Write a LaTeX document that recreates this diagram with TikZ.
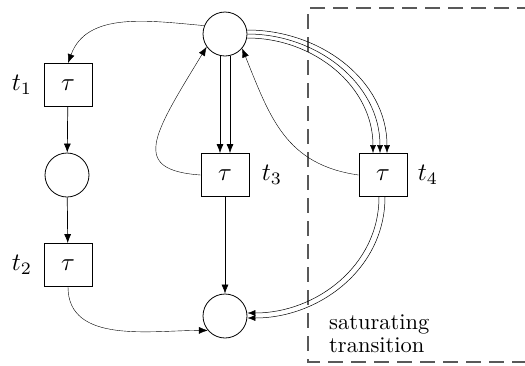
\documentclass[tikz,border=0pt]{standalone}
\usepackage{graphicx}
\usetikzlibrary{arrows.meta}
\newcommand{\twicemath}[1]{\scalebox{2.5}{$#1$}}
\newcommand{\bigtext}[1]{\scalebox{2.25}{#1}}
\begin{document}
\begin{tikzpicture}[x=1pt,y=-1pt,
 place/.style={circle,draw,line width=0.8pt,minimum size=44pt,inner sep=0pt},
 trans/.style={rectangle,draw,line width=0.8pt,minimum width=48pt,minimum height=43pt,inner sep=0pt},
 lbl/.style={inner sep=0pt},
 arc/.style={line width=0.7pt,-{Latex[length=9pt,width=7pt]}},
 thinarc/.style={line width=0.4pt,-{Latex[length=9pt,width=7pt]}},
 multiarc/.style={line width=0.5pt,-{Latex[length=8pt,width=6pt]}},
 region/.style={draw=black!65,line width=1.3pt,dash pattern=on 15pt off 8pt},
 note/.style={inner sep=0pt,anchor=base west},
]
\useasboundingbox (0,0) rectangle (525,365);
% region
\coordinate (r1) at (532,8);
\coordinate (r2) at (308,8);
\coordinate (r3) at (308,362);
\coordinate (r4) at (532,362);
\draw[region] (r1) -- (r2) -- (r3) -- (r4);
\node[note] (txt1) at (329,329) {\bigtext{saturating}};
\node[note] (txt2) at (329,352) {\bigtext{transition}};
% places
\node[place] (p0) at (225,34) {};
\node[place] (p1) at (67,175) {};
\node[place] (p2) at (225,316) {};
% transitions
\node[trans] (t1) at (68,85) {\twicemath{\tau}};
\node[trans] (t2) at (68,265) {\twicemath{\tau}};
\node[trans] (t3) at (225,175) {\twicemath{\tau}};
\node[trans] (t4) at (383,175) {\twicemath{\tau}};
\node[lbl] (l1) at (22,85) {\twicemath{t_1}};
\node[lbl] (l2) at (22,265) {\twicemath{t_2}};
\node[lbl] (l3) at (272,175) {\twicemath{t_3}};
\node[lbl] (l4) at (428,175) {\twicemath{t_4}};
% arcs
\draw[thinarc] (p0.158) to[out=175,in=70] (t1.north);
\draw[arc] (t1) -- (p1);
\draw[arc] (p1) -- (t2);
\draw[thinarc] (t2.south) to[out=-90,in=180] (p2.220);
\draw[thinarc] (t3.west) .. controls +(-70,-5) and +(-55,90) .. (p0.215);
\draw[thinarc] (t4.west) to[out=172,in=-68,looseness=1.1] (p0.-40);
\draw[arc] ([xshift=-5pt]p0.south) -- ([xshift=-5pt]t3.north);
\draw[arc] ([xshift=5pt]p0.south) -- ([xshift=5pt]t3.north);
\draw[arc] (t3) -- (p2);
\draw[multiarc] ([yshift=4pt]p0.east) to[out=0,in=90] ([xshift=4pt]t4.north);
\draw[multiarc] (p0.east) to[out=0,in=90] ([xshift=-3pt]t4.north);
\draw[multiarc] ([yshift=-4pt]p0.east) to[out=0,in=90] ([xshift=-10pt]t4.north);
\draw[multiarc] ([xshift=-4pt]t4.south) to[out=-90,in=0] ([yshift=3pt]p2.east);
\draw[multiarc] ([xshift=2pt]t4.south) to[out=-90,in=0] ([yshift=-2pt]p2.east);
\end{tikzpicture}
\end{document}
